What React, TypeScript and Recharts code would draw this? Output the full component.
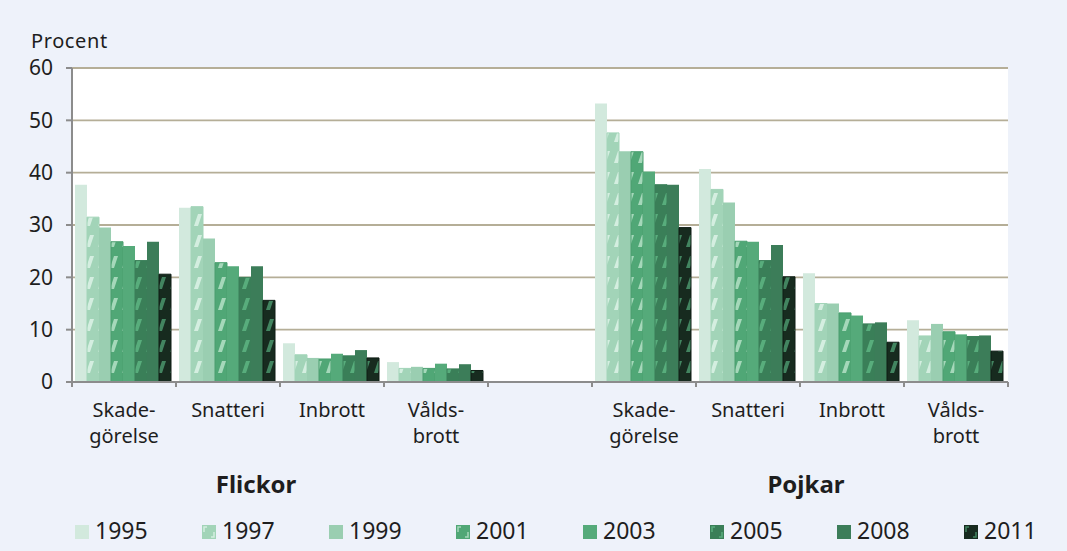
import { BarChart, Bar, XAxis, YAxis, CartesianGrid } from "recharts";

// categories (index 4 is the empty gap between the two groups)
const categoryKeys = ["f-skade", "f-snatt", "f-inbr", "f-vald", "gap", "p-skade", "p-snatt", "p-inbr", "p-vald"];
const categoryLabels: string[][] = [
    ["Skade-", "görelse"],
    ["Snatteri"],
    ["Inbrott"],
    ["Vålds-", "brott"],
    [],
    ["Skade-", "görelse"],
    ["Snatteri"],
    ["Inbrott"],
    ["Vålds-", "brott"],
];

const years = ["1995", "1997", "1999", "2001", "2003", "2005", "2008", "2011"];

const y1995 = [37.7, 33.3, 7.4, 3.8, null, 53.2, 40.7, 20.8, 11.8];
const y1997 = [31.5, 33.5, 5.2, 2.6, null, 47.6, 36.8, 15.0, 8.8];
const y1999 = [29.5, 27.4, 4.6, 2.9, null, 44.1, 34.3, 15.0, 11.1];
const y2001 = [26.8, 22.8, 4.4, 2.6, null, 44.0, 26.9, 13.2, 9.6];
const y2003 = [26.0, 22.1, 5.4, 3.5, null, 40.2, 26.8, 12.7, 9.1];
const y2005 = [23.2, 20.0, 5.0, 2.5, null, 37.7, 23.2, 11.1, 8.7];
const y2008 = [26.8, 22.1, 6.1, 3.4, null, 37.7, 26.2, 11.4, 8.9];
const y2011 = [20.6, 15.6, 4.6, 2.2, null, 29.5, 20.1, 7.6, 5.9];

const yearValues = [y1995, y1997, y1999, y2001, y2003, y2005, y2008, y2011];

const yTicks = [0, 10, 20, 30, 40, 50, 60];

const groupLabels = [
    { text: "Flickor", x: 256 },
    { text: "Pojkar", x: 806 },
];

// base colour, stripe colour (null = solid), outline
const seriesStyle = [
    { fill: "#D2E9DD", stripe: null, stroke: "none" },
    { fill: "#A2D4B8", stripe: "#D4EEE0", stroke: "#A2D4B8" },
    { fill: "#9ACEB1", stripe: null, stroke: "none" },
    { fill: "#50A776", stripe: "#A5D8BA", stroke: "#4A9E6F" },
    { fill: "#55AA7A", stripe: null, stroke: "none" },
    { fill: "#3A7F58", stripe: "#58AD7C", stroke: "#3A7F58" },
    { fill: "#3C7D59", stripe: null, stroke: "none" },
    { fill: "#172B1F", stripe: "#428560", stroke: "#0E1C14" },
];

const data = categoryKeys.map((key, i) => {
    const row: Record<string, any> = { key };
    years.forEach((yr, s) => {
        row[yr] = yearValues[s][i];
    });
    return row;
});

const W = 1067;
const H = 551;
const PLOT_LEFT = 72;
const PLOT_RIGHT = 1008;
const BAND = (PLOT_RIGHT - PLOT_LEFT) / categoryKeys.length;
const FONT = "'Noto Sans', 'DejaVu Sans', sans-serif";
const AXIS = "#8C8C8C";
const TEXT = "#1E1E1E";

const CategoryTick = (props: any) => {
    const { x, y, payload, index } = props;
    const idx = payload.index ?? index;
    const lines = categoryLabels[idx] || [];
    const last = idx === categoryKeys.length - 1;
    return (
        <g>
            <line x1={x - BAND / 2} x2={x - BAND / 2} y1={y} y2={y + 5} stroke={AXIS} strokeWidth={2} />
            {last && <line x1={x + BAND / 2} x2={x + BAND / 2} y1={y} y2={y + 5} stroke={AXIS} strokeWidth={2} />}
            {lines.map((l, i) => (
                <text key={i} x={x} y={y + 35 + i * 26} textAnchor="middle" fontSize={20} fill={TEXT} fontFamily={FONT}>
                    {l}
                </text>
            ))}
        </g>
    );
};

const App = () => {
    return (
        <div style={{ position: "absolute", left: 0, top: 0, width: W, height: H, background: "#EEF2FA", fontFamily: FONT }}>
            <BarChart
                width={W}
                height={H}
                data={data}
                margin={{ top: 68, right: W - PLOT_RIGHT, left: 12, bottom: 49 }}
                barCategoryGap={3}
                barGap={0}
            >
                <CartesianGrid vertical={false} fill="#FFFFFF" stroke="#B5AE97" strokeWidth={1.8} />
                {years.map((yr, s) => (
                    <Bar
                        key={yr}
                        dataKey={yr}
                        fill={seriesStyle[s].stripe ? `url(#pat-${yr})` : seriesStyle[s].fill}
                        stroke={seriesStyle[s].stroke}
                        strokeWidth={1}
                        isAnimationActive={false}
                    />
                ))}
                <XAxis
                    dataKey="key"
                    height={120}
                    interval={0}
                    tickLine={false}
                    tickSize={0}
                    tickMargin={0}
                    axisLine={{ stroke: AXIS, strokeWidth: 2 }}
                    tick={<CategoryTick />}
                />
                <YAxis
                    width={60}
                    domain={[0, 60]}
                    ticks={yTicks}
                    interval={0}
                    tickSize={6}
                    tickMargin={13}
                    axisLine={{ stroke: AXIS, strokeWidth: 2 }}
                    tickLine={{ stroke: AXIS, strokeWidth: 2 }}
                    tick={{ fontSize: 21, fill: TEXT, fontFamily: FONT }}
                />
            </BarChart>

            <svg width={W} height={H} style={{ position: "absolute", left: 0, top: 0, pointerEvents: "none" }}>
                <defs>
                    {years.map((yr, s) =>
                        seriesStyle[s].stripe ? (
                            <pattern key={yr} id={`pat-${yr}`} patternUnits="userSpaceOnUse" width={12} height={21}>
                                <rect width={12} height={21} fill={seriesStyle[s].fill} />
                                <polygon points="2,16 6,16 10,4 6,4" fill={seriesStyle[s].stripe as string} />
                            </pattern>
                        ) : null
                    )}
                </defs>

                <text x={31} y={48} fontSize={20} fill={TEXT} fontFamily={FONT} letterSpacing={0.6}>
                    Procent
                </text>

                {groupLabels.map((g) => (
                    <text key={g.text} x={g.x} y={493} textAnchor="middle" fontSize={24} fontWeight="bold" fill={TEXT} fontFamily={FONT}>
                        {g.text}
                    </text>
                ))}

                {years.map((yr, s) => {
                    const lx = 75 + s * 127;
                    const st = seriesStyle[s];
                    return (
                        <g key={yr}>
                            <rect x={lx} y={525} width={14} height={14} fill={st.fill} />
                            {st.stripe && (
                                <>
                                    <path d={`M${lx + 2},${527 + 5} V${527} H${lx + 5}`} stroke={st.stripe} strokeWidth={1.5} fill="none" />
                                    <path d={`M${lx + 12},${537 - 5} V${537} H${lx + 9}`} stroke={st.stripe} strokeWidth={1.5} fill="none" />
                                </>
                            )}
                            <text x={lx + 20} y={539} fontSize={23} fill={TEXT} fontFamily={FONT}>
                                {yr}
                            </text>
                        </g>
                    );
                })}
            </svg>
        </div>
    );
};

export default App;
